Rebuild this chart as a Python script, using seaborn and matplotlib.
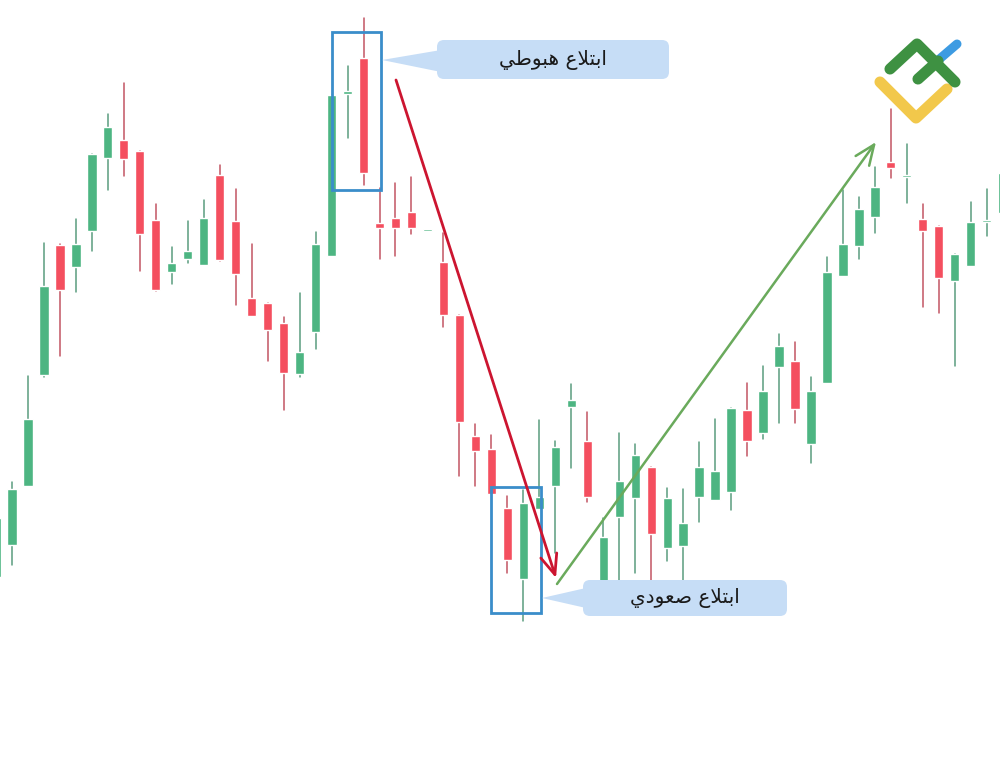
import numpy as np
import pandas as pd
import matplotlib
matplotlib.use("Agg")
import matplotlib.pyplot as plt
from matplotlib.patches import Rectangle, FancyBboxPatch, Polygon
import seaborn as sns

# candles (arbitrary price units, left to right)
opens = [123, 155, 214, 325, 455, 433, 469, 542, 560, 549, 480, 428, 441, 435, 525, 479,
         402, 397, 377, 326, 368, 444, 606, 642, 477, 482, 488, 469, 438, 385, 264, 251,
         192, 121, 191, 214, 293, 259, 115, 183, 202, 233, 152, 154, 203, 200, 208, 290,
         267, 333, 339, 256, 317, 424, 454, 483, 538, 523, 481, 474, 419, 434, 478, 487]
highs = [186, 218, 324, 457, 456, 481, 546, 586, 617, 549, 496, 453, 479, 500, 535, 511,
         456, 397, 383, 407, 468, 605, 634, 682, 512, 517, 523, 469, 467, 385, 276, 265,
         204, 210, 280, 259, 316, 288, 182, 267, 256, 233, 212, 211, 258, 281, 292, 317,
         334, 366, 358, 323, 443, 510, 503, 533, 591, 556, 496, 474, 446, 498, 511, 545]
lows = [120, 135, 214, 323, 344, 408, 449, 510, 524, 429, 409, 416, 437, 435, 439, 395,
        384, 339, 290, 323, 351, 444, 562, 515, 441, 444, 466, 469, 373, 224, 214, 206,
        127, 79, 191, 147, 232, 198, 110, 110, 127, 110, 139, 110, 178, 200, 190, 244,
        261, 277, 277, 237, 317, 424, 441, 467, 522, 497, 393, 387, 334, 434, 464, 480]
closes = [182, 211, 281, 414, 410, 456, 546, 573, 541, 466, 410, 437, 449, 482, 440, 426,
          384, 370, 327, 348, 456, 605, 609, 527, 472, 472, 472, 469, 385, 278, 249, 206,
          140, 197, 203, 253, 300, 203, 163, 219, 245, 166, 202, 177, 233, 229, 292, 259,
          309, 354, 291, 309, 428, 456, 491, 513, 532, 525, 469, 422, 446, 478, 479, 527]

label_bear = "ابتلاع هبوطي"
label_bull = "ابتلاع صعودي"

UP = "#4db582"
DOWN = "#f44f5f"
UP_WICK = "#5a9c7e"
DOWN_WICK = "#c25563"

# contextual forms so the arabic labels join up and read right to left
FORMS = {
    'ا': ('\uFE8D', '\uFE8E', None, None),
    'د': ('\uFEA9', '\uFEAA', None, None),
    'و': ('\uFEED', '\uFEEE', None, None),
    'ب': ('\uFE8F', '\uFE90', '\uFE91', '\uFE92'),
    'ت': ('\uFE95', '\uFE96', '\uFE97', '\uFE98'),
    'ل': ('\uFEDD', '\uFEDE', '\uFEDF', '\uFEE0'),
    'ع': ('\uFEC9', '\uFECA', '\uFECB', '\uFECC'),
    'ه': ('\uFEE9', '\uFEEA', '\uFEEB', '\uFEEC'),
    'ط': ('\uFEC1', '\uFEC2', '\uFEC3', '\uFEC4'),
    'ي': ('\uFEF1', '\uFEF2', '\uFEF3', '\uFEF4'),
    'ص': ('\uFEB9', '\uFEBA', '\uFEBB', '\uFEBC'),
}


def joins_left(c):
    return c in FORMS and FORMS[c][2] is not None


def shape_arabic(s):
    out = []
    i = 0
    n = len(s)
    while i < n:
        c = s[i]
        if c not in FORMS:
            out.append(c)
            i += 1
            continue
        link_prev = i > 0 and joins_left(s[i - 1])
        if c == 'ل' and i + 1 < n and s[i + 1] == 'ا':
            out.append('\uFEFC' if link_prev else '\uFEFB')
            i += 2
            continue
        link_next = joins_left(c) and i + 1 < n and s[i + 1] in FORMS
        iso, fin, ini, med = FORMS[c]
        if link_prev and link_next:
            out.append(med)
        elif link_prev:
            out.append(fin)
        elif link_next:
            out.append(ini)
        else:
            out.append(iso)
        i += 1
    return ''.join(reversed(out))


df = pd.DataFrame({"open": opens, "high": highs, "low": lows, "close": closes})
df["idx"] = np.arange(len(df))
df["dir"] = np.where(df["close"] >= df["open"], "up", "down")

wicks = pd.concat([
    df[["idx", "high", "dir"]].rename(columns={"high": "price"}),
    df[["idx", "low", "dir"]].rename(columns={"low": "price"}),
])

sns.set_theme(style="white")
plt.rcParams["font.family"] = ["DejaVu Sans"]

fig = plt.figure(figsize=(10, 7.75), dpi=100)
ax = fig.add_axes([0, 0, 1, 1])

sns.lineplot(data=wicks, x="idx", y="price", units="idx", estimator=None,
             hue="dir", palette={"up": UP_WICK, "down": DOWN_WICK},
             legend=False, lw=1.1, sort=False, ax=ax)

body_low = np.minimum(df["open"], df["close"])
body_h = np.maximum((df["close"] - df["open"]).abs(), 2)
ax.bar(df["idx"], body_h, bottom=body_low, width=0.58,
       color=np.where(df["dir"] == "up", UP, DOWN), zorder=3)

ax.set_xlim(0.25, 62.83)
ax.set_ylim(-75, 700)
ax.axis("off")

# overlay in pixel space for the annotations
deco = fig.add_axes([0, 0, 1, 1])
deco.set_xlim(0, 1000)
deco.set_ylim(775, 0)
deco.axis("off")
deco.patch.set_alpha(0)

box_c = "#3a8dca"
deco.add_patch(Rectangle((332, 32), 49, 158, fill=False, ec=box_c, lw=2))
deco.add_patch(Rectangle((491, 487), 50, 126, fill=False, ec=box_c, lw=2))

call_c = "#c6ddf6"
deco.add_patch(FancyBboxPatch((437, 40), 232, 39, boxstyle="round,pad=0,rounding_size=7",
                              fc=call_c, ec="none"))
deco.add_patch(Polygon([(382, 60), (441, 50), (441, 72)], fc=call_c, ec="none"))
deco.add_patch(FancyBboxPatch((583, 580), 204, 36, boxstyle="round,pad=0,rounding_size=7",
                              fc=call_c, ec="none", zorder=5))
deco.add_patch(Polygon([(542, 598), (586, 588), (586, 608)], fc=call_c, ec="none", zorder=5))

deco.text(553, 60, shape_arabic(label_bear), ha="center", va="center",
          fontsize=14.5, color="#1a1a1a")
deco.text(685, 598, shape_arabic(label_bull), ha="center", va="center",
          fontsize=14.5, color="#1a1a1a", zorder=6)

deco.annotate("", xy=(556, 578), xytext=(396, 80),
              arrowprops=dict(arrowstyle="->,head_length=1.2,head_width=0.5",
                              color="#cc1530", lw=2, shrinkA=0, shrinkB=0))
deco.annotate("", xy=(876, 142), xytext=(557, 584),
              arrowprops=dict(arrowstyle="->,head_length=1.2,head_width=0.5",
                              color="#6aaa5c", lw=1.8, shrinkA=0, shrinkB=0))

# logo
deco.plot([880, 916, 947], [82, 118, 89], color="#f2c84b", lw=8,
          solid_capstyle="round", solid_joinstyle="round")
deco.plot([936, 957], [62, 44], color="#3d9be2", lw=6.5, solid_capstyle="round")
deco.plot([918, 938], [79, 61], color="#3e9142", lw=8, solid_capstyle="round")
deco.plot([890, 917, 955], [69, 44, 82], color="#3e9142", lw=8,
          solid_capstyle="round", solid_joinstyle="round")

fig.savefig("out.png", dpi=100)
